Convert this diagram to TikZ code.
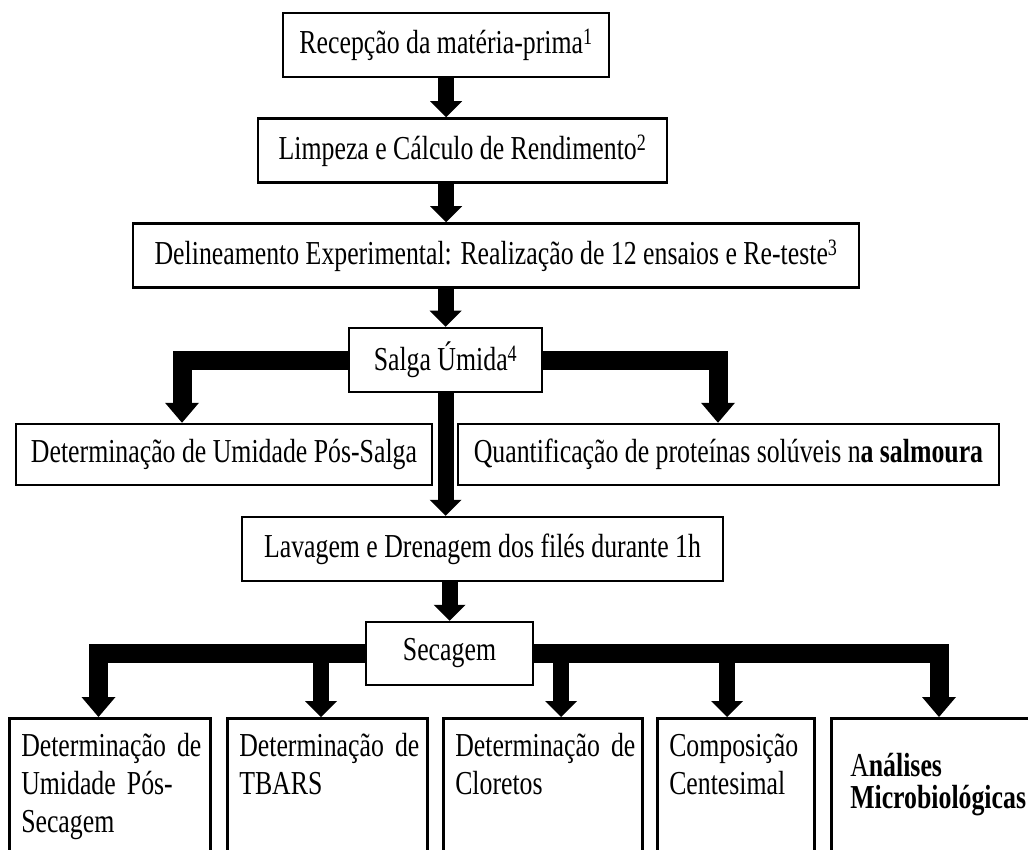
\documentclass[tikz,border=0pt]{standalone}
\usepackage{fontspec}
\setmainfont[FakeStretch=0.77]{Liberation Serif}
\usetikzlibrary{arrows.meta}
\newcommand\boxfont{\fontsize{33.5}{38}\selectfont\setlength{\normalbaselineskip}{38pt}}
\newcommand\tightfont{\fontsize{33.5}{32}\selectfont\setlength{\normalbaselineskip}{32pt}}

\begin{document}
\begin{tikzpicture}[x=1pt, y=-1pt,
    font=\boxfont,
    box/.style={draw, line width=2.5pt, inner sep=0pt, minimum height=64pt},
    low/.style={draw, line width=2.5pt, anchor=north west, align=left,
      inner xsep=12pt, inner ysep=4pt, text height=34pt, text depth=200pt},
    flow/.style={line width=16pt, -{Triangle[width=32pt, length=16pt, line width=0pt]}},
    fork/.style={line width=19pt, line join=miter, -{Triangle[width=34pt, length=20pt, line width=0pt]}}]
    \useasboundingbox (0,0) rectangle (1028,850);
    \node (rec) [box, minimum width=326pt] at (446,45) {Recepção da matéria-prima\textsuperscript{1}};
    \node (limp) [box, minimum width=409pt] at (462.5,150.5) {Limpeza e Cálculo de Rendimento\textsuperscript{2}};
    \node (deli) [box, minimum width=726pt] at (496,255.5) {Delineamento Experimental: Realização de 12 ensaios e Re-teste\textsuperscript{3}};
    \node (salga) [box, minimum width=193pt] at (445.5,360) {Salga Úmida\textsuperscript{4}};
    \node (umid) [box, minimum width=416pt, minimum height=61pt] at (224,454.5) {Determinação de Umidade Pós-Salga};
    \node (quant) [box, minimum width=541pt, minimum height=61pt] at (728.5,454.5) {Quantificação de proteínas solúveis n\textbf{a salmoura}};
    \node (lav) [box, minimum width=481pt] at (482.5,549) {Lavagem e Drenagem dos filés durante 1h};
    \node (sec) [box, minimum width=167pt, minimum height=63pt] at (449.5,653.5) {Secagem\hspace{14pt}};
    \node (A) [low, text width=177pt] at (8,717) {\mbox{Determinação de}\\Umidade Pós-\\Secagem};
    \node (B) [low, text width=176pt] at (226,717) {\mbox{Determinação de}\\TBARS};
    \node (C) [low, text width=175pt] at (442,717) {\mbox{Determinação de}\\Cloretos};
    \node (D) [low, text width=133pt] at (656,717) {Composição\\Centesimal};
    \node (E) [low, text width=200pt, inner xsep=19pt, text height=54pt, font=\tightfont] at (830,717) {A\textbf{nálises}\\\textbf{Microbiológicas}};
    \coordinate (a) at ([xshift=90.5pt]A.north west);
    \coordinate (b) at ([xshift=95pt]B.north west);
    \coordinate (c) at ([xshift=119pt]C.north west);
    \coordinate (d) at ([xshift=71pt]D.north west);
    \coordinate (e) at ([xshift=109pt]E.north west);
    \draw[flow] (rec) -- (rec |- limp.north);
    \draw[flow] (rec |- limp.south) -- (rec |- deli.north);
    \draw[flow] (salga |- deli.south) -- (salga);
    \draw[fork] (salga.west) -| ([xshift=-42pt]umid.north);
    \draw[fork] (salga.east) -| ([xshift=-10.5pt]quant.north);
    \draw[flow] (salga) -- (salga |- lav.north);
    \draw[flow] (sec |- lav.south) -- (sec);
    \draw[fork] (sec.west) -| (a);
    \draw[fork] (sec.east) -| (e);
    \draw[flow] (b |- sec) -- (b);
    \draw[flow] (c |- sec) -- (c);
    \draw[flow] (d |- sec) -- (d);
\end{tikzpicture}
\end{document}
